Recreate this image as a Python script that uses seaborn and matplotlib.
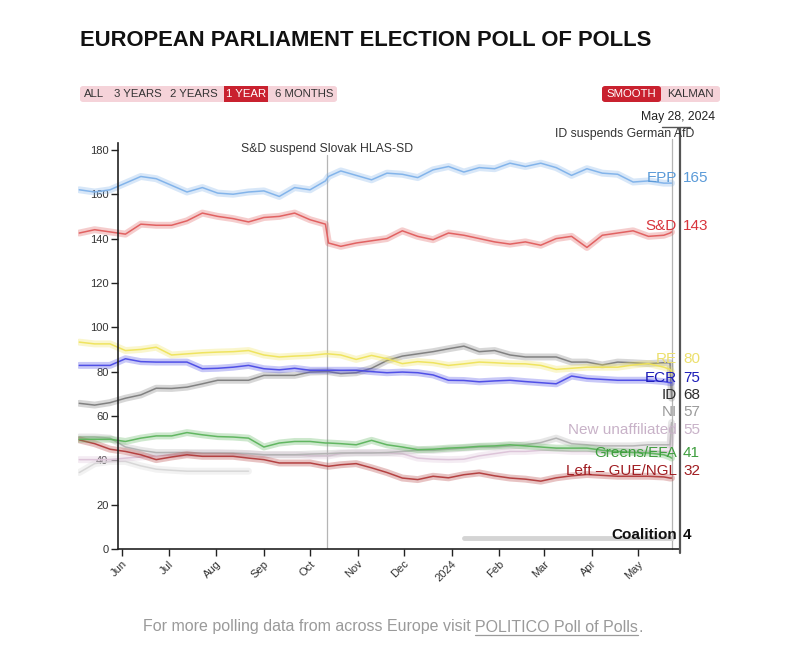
import matplotlib
matplotlib.use("Agg")
import matplotlib.pyplot as plt
import matplotlib.dates as mdates
from matplotlib.patches import FancyBboxPatch, Rectangle
from matplotlib.lines import Line2D
import numpy as np
import pandas as pd
import seaborn as sns

# ---------------- data ----------------
dates = ["2023-05-04", "2023-05-14", "2023-05-24", "2023-06-03", "2023-06-13", "2023-06-23",
         "2023-07-03", "2023-07-13", "2023-07-23", "2023-08-02", "2023-08-12", "2023-08-22",
         "2023-09-01", "2023-09-11", "2023-09-21", "2023-10-01", "2023-10-11", "2023-10-13",
         "2023-10-21", "2023-10-31", "2023-11-10", "2023-11-20", "2023-11-30", "2023-12-10",
         "2023-12-20", "2023-12-30", "2024-01-09", "2024-01-19", "2024-01-29", "2024-02-08",
         "2024-02-18", "2024-02-28", "2024-03-09", "2024-03-19", "2024-03-29", "2024-04-08",
         "2024-04-18", "2024-04-28", "2024-05-08", "2024-05-18", "2024-05-22", "2024-05-23"]

epp = [162, 161, 162, 165, 168, 167, 164, 161, 163, 160.5, 160, 161, 161.5, 159, 163, 162,
       166, 168, 170.5, 168.5, 166.5, 169.5, 169, 167.5, 171, 172.5, 170, 172, 171.5, 174,
       172.5, 174, 172, 168.5, 171.5, 169.5, 169, 165.5, 166, 165, 165, 165]
snd = [142.5, 144, 143, 142, 146.5, 146, 146, 148, 151.5, 150, 149, 147.5, 149.5, 150, 151.5,
       148.5, 146.5, 138, 136.5, 138, 139, 140, 143.5, 141, 139.5, 142.5, 141.5, 140, 138.5,
       137.5, 138.5, 137, 140, 141, 136, 141.5, 142.5, 143.5, 141, 141.5, 142.5, 143]
re = [93.3, 92.5, 92.5, 89.5, 90, 91, 87.5, 88, 88.5, 88.8, 89, 89.5, 87.5, 86.6, 87, 87.3,
      88, 88, 87.5, 85.5, 87.3, 85.8, 83.6, 84.5, 84, 82.8, 83.5, 84.3, 84, 83.6, 83.5, 82.8,
      81, 81.5, 82, 82, 82, 83, 83.6, 82, 81, 80]
ecr = [82.8, 82.8, 82.8, 85.8, 84.5, 84.3, 84.3, 84.3, 81.3, 81.5, 82, 82.8, 81.3, 80.8, 81.5,
       80.6, 80.6, 80.6, 80.6, 80.6, 80, 79.5, 79.8, 79.5, 78.5, 76.1, 76, 75.4, 75.8, 76.1,
       75.5, 75, 74.5, 78, 76.9, 76.5, 76.1, 76.1, 76.1, 75.5, 75, 75]
ident = [65.7, 64.9, 66, 68, 69.5, 72.5, 72.4, 73, 74.5, 76.1, 76.1, 76.1, 78.3, 78.3, 78.3,
         79.8, 80, 80, 79.1, 79.5, 81.5, 85, 87, 88, 89, 90.3, 91.5, 89, 89.5, 87.5, 86.6,
         86.6, 86.6, 84.3, 84.3, 83, 84.3, 84, 83.6, 84, 84, 68]
ni = [50.5, 50.5, 50, 46, 44.5, 43.5, 43.5, 43.5, 43.3, 43.3, 43.3, 43, 42.5, 42.5, 42.5, 42.8,
      43, 43, 43.3, 43.3, 43.3, 43.5, 44, 44.5, 44.5, 45, 45.5, 46, 46, 46.5, 47, 48, 50, 47.5,
      47, 46.5, 46.5, 46.5, 47, 47, 47, 57]
new_unaff = [40.3, 40.3, 40.3, 41, 41.5, 42, 42.5, 43, 43.3, 43.3, 43, 43, 42.5, 42.5, 42.5,
             42, 42, 42, 43, 43.5, 43.5, 43.3, 43, 41, 40.5, 40.3, 40.5, 42, 43, 44, 44, 44.5,
             44.5, 44, 44, 44, 44, 44, 44, 44, 44, 55]
greens = [49.5, 49.5, 49.5, 48.5, 50, 51, 51, 52.5, 51.5, 50.7, 50.5, 50, 46, 47.8, 48.5, 48.5,
          47.8, 47.8, 47.5, 47, 49, 47, 46, 44.8, 45, 45.5, 45.8, 46.3, 46.5, 47, 46.5, 46,
          45.5, 45.5, 45.5, 44.5, 44, 43.5, 43.3, 42.5, 41.5, 41]
left = [49.2, 47.5, 45, 44, 42.5, 40.3, 41.5, 42.5, 41.8, 41.8, 41.8, 41, 40.3, 38.8, 38.8,
        38.8, 37.5, 37.3, 38, 38.5, 36.6, 34.5, 32, 31.3, 32.8, 32.1, 33.5, 34.3, 33, 32, 31.5,
        30.6, 32.1, 33, 33.6, 33.2, 32.8, 32.8, 32.8, 32.5, 32, 32]
other = [34.5, 38.5, 39.5, 39.5, 37.5, 36, 35.5, 35.1, 35.1, 35.1, 35.1, 35.1] + [np.nan] * 30
coalition = [np.nan] * 26 + [5] * 16

party_names = ["EPP", "S&D", "RE", "ECR", "ID", "NI", "New unaffiliated", "Greens/EFA",
               "Left – GUE/NGL", "Coalition"]
party_finals = [165, 143, 80, 75, 68, 57, 55, 41, 32, 4]
label_y = [167.3, 145.7, 85.7, 77.1, 69.5, 61.8, 53.7, 43.3, 35.2, 6.3]

range_buttons = ["ALL", "3 YEARS", "2 YEARS", "1 YEAR", "6 MONTHS"]
mode_buttons = ["SMOOTH", "KALMAN"]
month_labels = ["Jun", "Jul", "Aug", "Sep", "Oct", "Nov", "Dec", "2024", "Feb", "Mar", "Apr", "May"]
month_starts = ["2023-06-01", "2023-07-01", "2023-08-01", "2023-09-01", "2023-10-01",
                "2023-11-01", "2023-12-01", "2024-01-01", "2024-02-01", "2024-03-01",
                "2024-04-01", "2024-05-01"]
y_ticks = [0, 20, 40, 60, 80, 100, 120, 140, 160, 180]

# ---------------- styles ----------------
line_colors = {"EPP": "#7fb2ea", "S&D": "#e05c5c", "RE": "#efe35a", "ECR": "#4a4ae6",
               "ID": "#7d7d7d", "NI": "#b2b2b2", "New unaffiliated": "#dcc3d8",
               "Greens/EFA": "#5cb45c", "Left – GUE/NGL": "#b23b3b", "Other": "#d6d6d6"}
text_colors = {"EPP": "#5a9ad8", "S&D": "#d8353d", "RE": "#ece06e", "ECR": "#1c1cb8",
               "ID": "#2e2e2e", "NI": "#9a9a9a", "New unaffiliated": "#c8b2c8",
               "Greens/EFA": "#3f9e3f", "Left – GUE/NGL": "#a01d22", "Coalition": "#111111"}

sns.set_style("white")
plt.rcParams['font.family'] = ['Liberation Sans', 'DejaVu Sans']

W, H = 800, 655
fig = plt.figure(figsize=(W / 100, H / 100), dpi=100)
fig.patch.set_facecolor("white")


def fx(x):
    return x / W


def fy(y):
    return 1 - y / H


ax = fig.add_axes([fx(78), fy(549), 602 / W, 406 / H])
ax.set_facecolor("white")

dts = pd.to_datetime(dates)
series = {"EPP": epp, "S&D": snd, "RE": re, "ECR": ecr, "ID": ident, "NI": ni,
          "New unaffiliated": new_unaff, "Greens/EFA": greens, "Left – GUE/NGL": left,
          "Other": other}

draw_order = ["Other", "New unaffiliated", "NI", "Left – GUE/NGL", "Greens/EFA", "ID", "RE",
              "ECR", "S&D", "EPP"]
for name in draw_order:
    df = pd.DataFrame({"date": dts, "value": series[name]}).dropna()
    sns.lineplot(data=df, x="date", y="value", ax=ax, color=line_colors[name],
                 linewidth=5, alpha=0.3, estimator=None, legend=False)
    sns.lineplot(data=df, x="date", y="value", ax=ax, color=line_colors[name],
                 linewidth=1.1, alpha=0.95, estimator=None, legend=False)

dfc = pd.DataFrame({"date": dts, "value": coalition}).dropna()
sns.lineplot(data=dfc, x="date", y="value", ax=ax, color="#d4d4d4", linewidth=3.5,
             estimator=None, legend=False)

x_left = pd.Timestamp("2023-05-03 04:00")
x_right = pd.Timestamp("2024-05-28 12:00")
ax.set_xlim(x_left, x_right)
ax.set_ylim(0, 183.1)

spine_x = pd.Timestamp("2023-05-29 06:00")
for s in ["top", "right"]:
    ax.spines[s].set_visible(False)
ax.spines["left"].set_position(("data", mdates.date2num(spine_x)))
ax.spines["left"].set_bounds(0, 183.1)
ax.spines["bottom"].set_bounds(mdates.date2num(spine_x), mdates.date2num(x_right))
for s in ["left", "bottom"]:
    ax.spines[s].set_color("#222222")
    ax.spines[s].set_linewidth(1.2)

ax.set_yticks(y_ticks)
ax.set_yticklabels([str(v) for v in y_ticks])
ax.set_xticks(pd.to_datetime(month_starts))
ax.set_xticklabels(month_labels, rotation=45, ha="right", rotation_mode="anchor")
ax.tick_params(axis="both", length=5, width=1, color="#222222", labelsize=8,
               labelcolor="#333333", direction="out", left=True, bottom=True, pad=2)
ax.set_xlabel("")
ax.set_ylabel("")

# event lines
ev1 = pd.Timestamp("2023-10-12")
ax.plot([ev1, ev1], [0, 177.7], color="#b5b5b5", lw=0.9, zorder=1)
ev2 = pd.Timestamp("2024-05-23 02:00")
ax.plot([ev2, ev2], [0, 184.9], color="#b5b5b5", lw=0.9, zorder=1, clip_on=False)
ax.plot([x_right, x_right], [-1.8, 189.7], color="#555555", lw=1.6, zorder=5, clip_on=False)
ax.plot([pd.Timestamp("2024-05-17"), pd.Timestamp("2024-06-04")], [190.1, 190.1],
        color="#555555", lw=1.0, clip_on=False)

ax.text(ev1, 180.5, "S&D suspend Slovak HLAS-SD", fontsize=8.8, color="#333333",
        ha="center", va="center")
fig.text(fx(694), fy(134), "ID suspends German AfD", fontsize=8.8, color="#333333",
         ha="right", va="center")
fig.text(fx(678), fy(117), "May 28, 2024", fontsize=8.8, color="#222222",
         ha="center", va="center")

# end labels
name_x = pd.Timestamp("2024-05-26 12:00")
val_x = pd.Timestamp("2024-05-30 12:00")
for name, val, yv in zip(party_names, party_finals, label_y):
    weight = "bold" if name == "Coalition" else "normal"
    ax.text(name_x, yv, name, color=text_colors[name], fontsize=11, ha="right", va="center",
            fontweight=weight, clip_on=False, zorder=6)
    ax.text(val_x, yv, str(val), color=text_colors[name], fontsize=11, ha="left",
            va="center", fontweight=weight, clip_on=False, zorder=6)

# title
fig.text(fx(80), fy(41), "EUROPEAN PARLIAMENT ELECTION POLL OF POLLS", fontsize=15.8,
         fontweight="bold", color="#111111", ha="left", va="center")

# buttons
pink = "#f5d3d9"
red = "#c9212f"
fig.patches.append(FancyBboxPatch((fx(80), fy(102)), fx(337) - fx(80), (102 - 86) / H,
                                  boxstyle="round,pad=0,rounding_size=0.004",
                                  transform=fig.transFigure, fc=pink, ec="none"))
fig.patches.append(Rectangle((fx(224), fy(102)), fx(268) - fx(224), (102 - 86) / H,
                             transform=fig.transFigure, fc=red, ec="none"))
btn_x = [94, 138, 194, 246, 304]
for lbl, bx in zip(range_buttons, btn_x):
    col = "white" if lbl == "1 YEAR" else "#333333"
    fig.text(fx(bx), fy(94), lbl, fontsize=8.2, color=col, ha="center", va="center")

fig.patches.append(FancyBboxPatch((fx(602), fy(102)), fx(720) - fx(602), (102 - 86) / H,
                                  boxstyle="round,pad=0,rounding_size=0.004",
                                  transform=fig.transFigure, fc=pink, ec="none"))
fig.patches.append(FancyBboxPatch((fx(602), fy(102)), fx(661) - fx(602), (102 - 86) / H,
                                  boxstyle="round,pad=0,rounding_size=0.004",
                                  transform=fig.transFigure, fc=red, ec="none"))
fig.text(fx(631.5), fy(94), mode_buttons[0], fontsize=8.2, color="white", ha="center",
         va="center")
fig.text(fx(690.5), fy(94), mode_buttons[1], fontsize=8.2, color="#333333", ha="center",
         va="center")

# footer
foot_col = "#9a9a9a"
t1 = fig.text(fx(143), fy(627), "For more polling data from across Europe visit ",
              fontsize=11.5, color=foot_col, ha="left", va="center")
fig.canvas.draw()
r = fig.canvas.get_renderer()
bb1 = t1.get_window_extent(r)
x2 = bb1.x1 / W
t2 = fig.text(x2, fy(627), "POLITICO Poll of Polls", fontsize=11.5, color=foot_col,
              ha="left", va="center")
bb2 = t2.get_window_extent(r)
fig.text(bb2.x1 / W, fy(627), ".", fontsize=11.5, color=foot_col, ha="left", va="center")
fig.lines.append(Line2D([bb2.x0 / W, bb2.x1 / W], [bb2.y0 / H - 0.001, bb2.y0 / H - 0.001],
                        transform=fig.transFigure, color=foot_col, lw=0.9))

fig.savefig("out.png", dpi=100, facecolor="white")
